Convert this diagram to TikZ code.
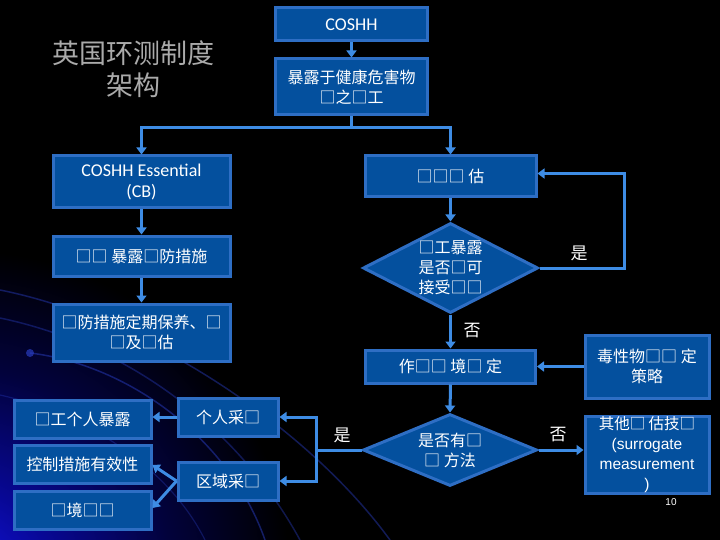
\documentclass[tikz,border=0pt]{standalone}
\usepackage{fontspec}
\setmainfont{Noto Sans CJK SC}
\newfontfamily\cjk{Noto Sans CJK SC}
\newfontfamily\calfont{Carlito}
\newfontfamily\arialfont{Liberation Sans}
\usetikzlibrary{arrows.meta,shapes.geometric,calc}
\definecolor{boxfill}{RGB}{4,80,158}
\definecolor{boxline}{RGB}{46,110,196}
\definecolor{arrowc}{RGB}{62,140,228}
\definecolor{titlegray}{RGB}{170,170,170}
\definecolor{glowA}{RGB}{20,20,230}
\definecolor{glowB}{RGB}{8,8,150}
\definecolor{glowC}{RGB}{2,2,60}
\definecolor{swirl}{RGB}{40,60,190}
\pgfdeclareradialshading{glow}{\pgfpoint{0bp}{0bp}}{color(0bp)=(glowA); color(7bp)=(glowB); color(16bp)=(glowC); color(25bp)=(black); color(50bp)=(black)}
\tikzset{
  bx/.style={draw=boxline, fill=boxfill, line width=3pt, inner sep=0pt,
    text=white, align=center, font=\cjk\fontsize{16}{20}\selectfont},
  dia/.style={diamond, draw=boxline, fill=boxfill, line width=3pt, inner sep=0pt},
  dtxt/.style={text=white, align=center, font=\cjk\fontsize{16}{20}\selectfont},
  lbl/.style={text=white, font=\cjk\fontsize{17}{20}\selectfont},
  conn/.style={draw=arrowc, line width=3pt},
  arr/.style={conn, -{Triangle[length=7pt,width=10pt]}},
}
\begin{document}
\begin{tikzpicture}[x=1pt,y=-1pt]
\useasboundingbox (0,0) rectangle (720,540);
\fill[black] (0,0) rectangle (720,540);
\begin{scope}
\clip (0,0) rectangle (720,540);
\shade[shading=glow] (-40,580) circle (330);
\draw[swirl, line width=1.5pt, opacity=0.45] (0,290) .. controls (150,320) and (310,430) .. (390,540);
\draw[swirl, line width=1.5pt, opacity=0.4] (0,318) .. controls (130,345) and (240,430) .. (300,540);
\draw[swirl, line width=1.5pt, opacity=0.5] (30,353) .. controls (130,365) and (230,440) .. (265,540);
\draw[swirl, line width=1.2pt, opacity=0.35] (0,395) .. controls (90,415) and (170,470) .. (205,540);
\fill[swirl, opacity=0.7] (30,353) circle (4);
\end{scope}

% title
\node[text=titlegray, align=center, font=\cjk\fontsize{27}{32}\selectfont] (title) at (133,69) {英国环测制度\\架构};

% nodes
\node[bx, minimum width=152, minimum height=33, font=\calfont\fontsize{18}{20}\selectfont] (coshh) at (351.5,24.5) {COSHH};
\node[bx, minimum width=152, minimum height=56] (expo) at (351.5,87) {暴露于健康危害物\\□之□工};
\node[bx, minimum width=177, minimum height=52, font=\calfont\fontsize{18}{21}\selectfont] (ess) at (141.5,182) {COSHH Essential\\(CB)};
\node[bx, minimum width=171, minimum height=41] (est) at (450.5,176.5) {□□□ 估};
\node[bx, minimum width=177, minimum height=40] (prev) at (141.5,256) {□□ 暴露□防措施};
\node[bx, minimum width=177, minimum height=57] (maint) at (141.5,332.5) {□防措施定期保养、□\\□及□估};
\node[dia, minimum width=175, minimum height=90] (d1) at (450.5,268) {};
\node[dtxt] (d1t) at (d1) {□工暴露\\是否□可\\接受□□};
\node[bx, minimum width=170, minimum height=33] (work) at (450.5,366.5) {作□□ 境□ 定};
\node[bx, minimum width=124, minimum height=63] (tox) at (647,366.5) {毒性物□□ 定\\策略};
\node[dia, minimum width=174, minimum height=72] (d2) at (450,450) {};
\node[dtxt] (d2t) at (d2) {是否有□\\□ 方法};
\node[bx, minimum width=124, minimum height=76, font=\arialfont\fontsize{15.5}{20}\selectfont] (other) at (647,455) {{\cjk 其他□ 估技□}\\(surrogate\\measurement\\)};
\node[bx, minimum width=100, minimum height=38] (pers) at (228,417) {个人采□};
\node[bx, minimum width=100, minimum height=38] (area) at (228,481) {区域采□};
\node[bx, minimum width=137, minimum height=38] (worker) at (82.5,419) {□工个人暴露};
\node[bx, minimum width=137, minimum height=38] (ctrl) at (82.5,464) {控制措施有效性};
\node[bx, minimum width=137, minimum height=38] (env) at (82.5,510) {□境□□};

% labels
\node[lbl] (yes1) at (579,253) {是};
\node[lbl] (no1) at (472,331) {否};
\node[lbl] (no2) at (558,435) {否};
\node[lbl] (yes2) at (342,435) {是};
\node[text=white, font=\arialfont\fontsize{10}{12}\selectfont] (pg) at (671,502) {10};

% connectors
\coordinate (split1) at (351.5,128);
\coordinate (loop) at (624,268);
\coordinate (split2) at (316,450);
\draw[arr] (coshh) -- (expo);
\draw[conn] (expo.south) -- (split1);
\draw[arr] (split1) -| (ess.north);
\draw[arr] (split1) -| (est.north);
\draw[arr] (ess) -- (prev);
\draw[arr] (prev) -- (maint);
\draw[arr] (est) -- (d1.north);
\draw[arr] (d1.east) -- (loop) |- ($(est.east)+(0,-3)$);
\draw[arr] (d1.south) -- (work.north);
\draw[arr] (tox.west) -- (work.east);
\draw[arr] (work.south) -- (d2.north);
\draw[arr] (d2.east) -- (other.west |- d2.east);
\draw[conn] (d2.west) -- (split2);
\draw[arr] (split2) |- (pers.east);
\draw[arr] (split2) |- (area.east);
\draw[arr] (pers.west) -- (worker.east |- pers.west);
\draw[arr] (area.west) -- ($(ctrl.east)+(0,1)$);
\draw[arr] (area.west) -- ($(env.east)+(0,-2)$);
\end{tikzpicture}
\end{document}
